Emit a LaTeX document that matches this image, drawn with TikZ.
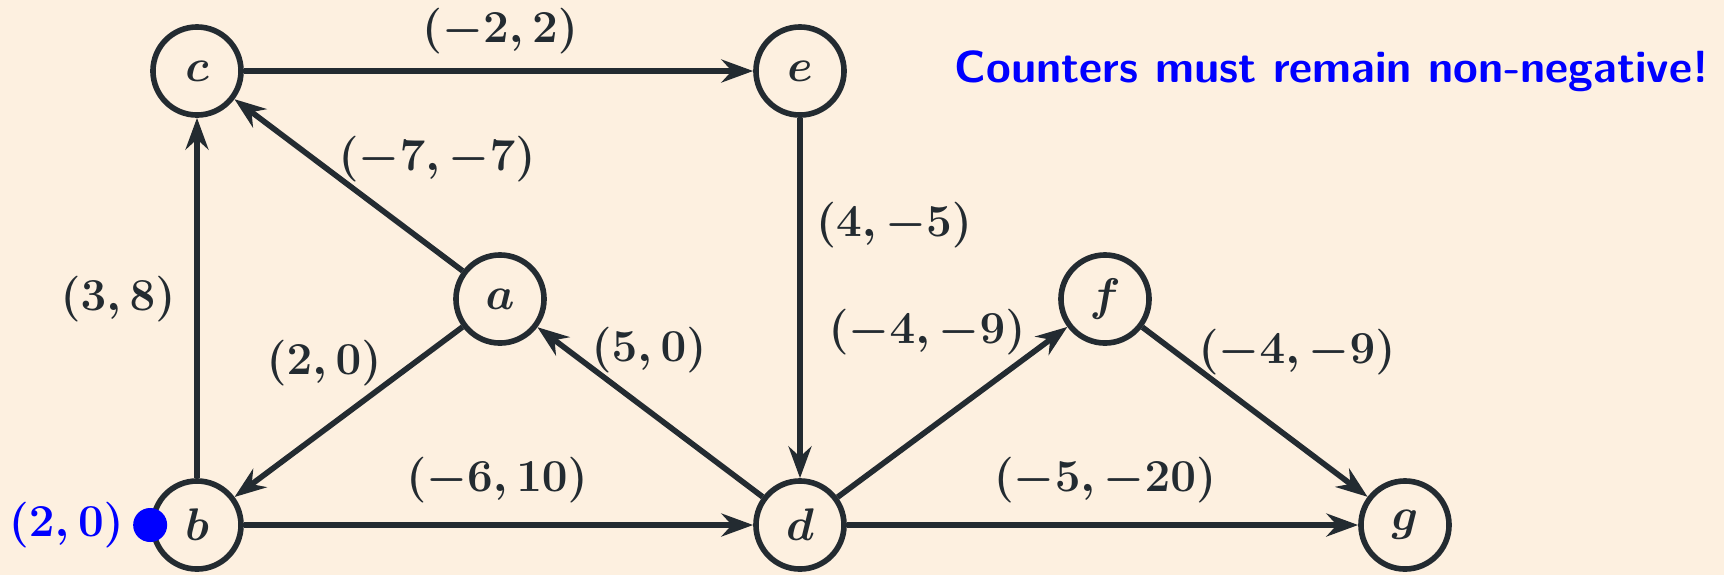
\RequirePackage{fix-cm}
\documentclass[tikz,border=0pt]{standalone}
\usepackage{xcolor}
\usepackage{tikz}
\usetikzlibrary{arrows.meta, positioning}
\definecolor{PaperBeige}{HTML}{FDF0E0}
\definecolor{InkGray}{HTML}{232B31}
\definecolor{TokenBlue}{HTML}{0000FF}

\begin{document}
\begin{tikzpicture}[
  x=0.01cm, y=-0.01cm,
  vertex/.style={circle, draw=InkGray, line width=1.6pt, minimum size=0.88cm,
    inner sep=0pt, text=InkGray, font=\fontsize{13}{16}\selectfont\boldmath},
  weight/.style={inner sep=0pt, text=InkGray,
    font=\fontsize{13}{16}\selectfont\boldmath},
  arr/.style={-{Stealth[length=9pt, width=6.5pt]}, line width=1.6pt, InkGray},
  token/.style={circle, fill=TokenBlue, minimum size=0.34cm, inner sep=0pt}
]

\fill[PaperBeige] (0,0) rectangle (1724,575);
\useasboundingbox (0,0) rectangle (1724,575);

\node[vertex] (c) at (197,71) {$c$};
\node[vertex] (e) at (800,71) {$e$};
\node[vertex] (a) at (500,299) {$a$};
\node[vertex] (f) at (1105,299) {$f$};
\node[vertex] (b) at (197,525) {$b$};
\node[vertex] (d) at (800,525) {$d$};
\node[vertex] (g) at (1405,525) {$g$};

\draw[arr] (c) -- (e);
\draw[arr] (a) -- (c);
\draw[arr] (b) -- (c);
\draw[arr] (a) -- (b);
\draw[arr] (d) -- (a);
\draw[arr] (e) -- (d);
\draw[arr] (b) -- (d);
\draw[arr] (d) -- (f);
\draw[arr] (d) -- (g);
\draw[arr] (f) -- (g);

\node[weight] (wce) at (500,31) {$(-2,2)$};
\node[weight] (wac) at (437,159) {$(-7,-7)$};
\node[weight] (wed) at (894,225) {$(4,-5)$};
\node[weight] (wbc) at (118,299) {$(3,8)$};
\node[weight] (wab) at (324,363) {$(2,0)$};
\node[weight] (wda) at (649,350) {$(5,0)$};
\node[weight] (wdf) at (927,332) {$(-4,-9)$};
\node[weight] (wfg) at (1297,352) {$(-4,-9)$};
\node[weight] (wbd) at (497,480) {$(-6,10)$};
\node[weight] (wdg) at (1105,480) {$(-5,-20)$};

\node[token] (tok) at (b.west) {};
\node[weight, text=TokenBlue, left=0.08cm of tok] (tokval) {$(2,0)$};

\node[anchor=west, inner sep=0pt, text=TokenBlue,
  font=\fontsize{12.8}{15}\selectfont\sffamily\bfseries] (note) at (954,71)
  {Counters must remain non-negative!};

\end{tikzpicture}
\end{document}
